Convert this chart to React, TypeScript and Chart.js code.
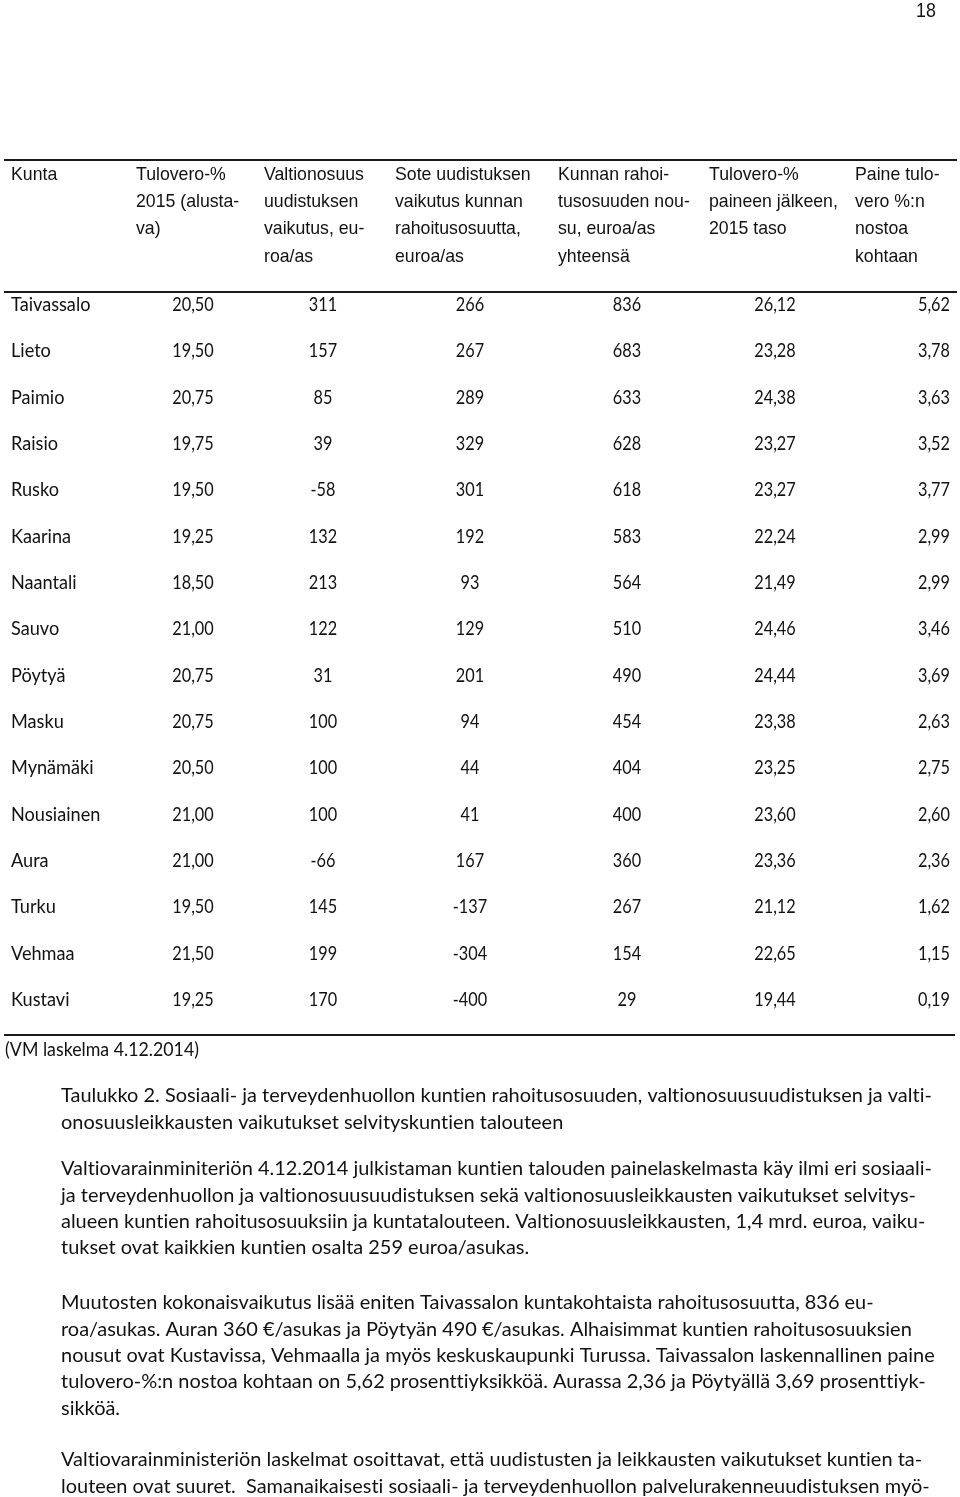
import React, { useEffect, useRef } from "react";
import { Chart, registerables } from "chart.js";

Chart.register(...registerables);

const kunnat = ["Taivassalo", "Lieto", "Paimio", "Raisio", "Rusko", "Kaarina", "Naantali", "Sauvo", "Pöytyä", "Masku", "Mynämäki", "Nousiainen", "Aura", "Turku", "Vehmaa", "Kustavi"];
const tulovero2015 = [20.5, 19.5, 20.75, 19.75, 19.5, 19.25, 18.5, 21.0, 20.75, 20.75, 20.5, 21.0, 21.0, 19.5, 21.5, 19.25];
const valtionosuus = [311, 157, 85, 39, -58, 132, 213, 122, 31, 100, 100, 100, -66, 145, 199, 170];
const sote = [266, 267, 289, 329, 301, 192, 93, 129, 201, 94, 44, 41, 167, -137, -304, -400];
const rahoitusNousu = [836, 683, 633, 628, 618, 583, 564, 510, 490, 454, 404, 400, 360, 267, 154, 29];
const tuloveroJalkeen = [26.12, 23.28, 24.38, 23.27, 23.27, 22.24, 21.49, 24.46, 24.44, 23.38, 23.25, 23.6, 23.36, 21.12, 22.65, 19.44];
const paine = [5.62, 3.78, 3.63, 3.52, 3.77, 2.99, 2.99, 3.46, 3.69, 2.63, 2.75, 2.6, 2.36, 1.62, 1.15, 0.19];

const headers = [
  ["Kunta"],
  ["Tulovero-%", "2015 (alusta-", "va)"],
  ["Valtionosuus", "uudistuksen", "vaikutus, eu-", "roa/as"],
  ["Sote uudistuksen", "vaikutus kunnan", "rahoitusosuutta,", "euroa/as"],
  ["Kunnan rahoi-", "tusosuuden nou-", "su, euroa/as", "yhteensä"],
  ["Tulovero-%", "paineen jälkeen,", "2015 taso"],
  ["Paine tulo-", "vero %:n", "nostoa", "kohtaan"],
];

const footnote = "(VM laskelma 4.12.2014)";
const paragraphs = [
  [
    "Taulukko 2. Sosiaali- ja terveydenhuollon kuntien rahoitusosuuden, valtionosuusuudistuksen ja valti-",
    "onosuusleikkausten vaikutukset selvityskuntien talouteen",
  ],
  [
    "Valtiovarainminiteriön 4.12.2014 julkistaman kuntien talouden painelaskelmasta käy ilmi eri sosiaali-",
    "ja terveydenhuollon ja valtionosuusuudistuksen sekä valtionosuusleikkausten vaikutukset selvitys-",
    "alueen kuntien rahoitusosuuksiin ja kuntatalouteen. Valtionosuusleikkausten, 1,4 mrd. euroa, vaiku-",
    "tukset ovat kaikkien kuntien osalta 259 euroa/asukas.",
  ],
  [
    "Muutosten kokonaisvaikutus lisää eniten Taivassalon kuntakohtaista rahoitusosuutta, 836 eu-",
    "roa/asukas. Auran 360 €/asukas ja Pöytyän 490 €/asukas. Alhaisimmat kuntien rahoitusosuuksien",
    "nousut ovat Kustavissa, Vehmaalla ja myös keskuskaupunki Turussa. Taivassalon laskennallinen paine",
    "tulovero-%:n nostoa kohtaan on 5,62 prosenttiyksikköä. Aurassa 2,36 ja Pöytyällä 3,69 prosenttiyk-",
    "sikköä.",
  ],
  [
    "Valtiovarainministeriön laskelmat osoittavat, että uudistusten ja leikkausten vaikutukset kuntien ta-",
    "louteen ovat suuret.  Samanaikaisesti sosiaali- ja terveydenhuollon palvelurakenneuudistuksen myö-",
  ],
];

// layout (styles only)
const W = 960;
const H = 1497;
const colAnchor = [11, 193, 323, 470, 627, 775, 950];
const colAlign: CanvasTextAlign[] = ["left", "center", "center", "center", "center", "center", "right"];
const headerX = [11, 136, 264, 395, 558, 709, 855];
const cellFont = "18.5px Lato";
const nameSx = 0.98;
const numSx = 0.88;
const paraFont = "19px Lato";
const paraSx = 1.05;
const headFont = "17.7px 'Liberation Sans'";
const ink = "#111";

const fmt2 = (v: number) => v.toFixed(2).replace(".", ",");
const fmt0 = (v: number) => String(v);
// break Lato's ti / tt / ft / fi ligatures
const noLig = (s: string) => s.replace(/([ft])(?=[a-zåäöt])/g, "$1\u200C");

function drawText(ctx: CanvasRenderingContext2D, text: string, x: number, y: number, font: string, align: CanvasTextAlign = "left", sx = 1) {
  ctx.save();
  ctx.font = font;
  ctx.fillStyle = ink;
  ctx.textBaseline = "middle";
  ctx.textAlign = align;
  ctx.translate(x, y);
  ctx.scale(sx, 1);
  ctx.fillText(noLig(text), 0, 0);
  ctx.restore();
}

function rule(ctx: CanvasRenderingContext2D, x1: number, x2: number, y: number) {
  ctx.save();
  ctx.strokeStyle = "#1a1a1a";
  ctx.lineWidth = 2;
  ctx.beginPath();
  ctx.moveTo(x1, y);
  ctx.lineTo(x2, y);
  ctx.stroke();
  ctx.restore();
}

export default function App() {
  const ref = useRef<HTMLCanvasElement>(null);
  useEffect(() => {
    if (!ref.current) return;
    const columns = [
      { values: kunnat as (string | number)[], f: (v: any) => String(v), sx: nameSx },
      { values: tulovero2015, f: fmt2, sx: numSx },
      { values: valtionosuus, f: fmt0, sx: numSx },
      { values: sote, f: fmt0, sx: numSx },
      { values: rahoitusNousu, f: fmt0, sx: numSx },
      { values: tuloveroJalkeen, f: fmt2, sx: numSx },
      { values: paine, f: fmt2, sx: numSx },
    ];
    const tablePlugin = {
      id: "tablePlugin",
      afterDraw(chart: any) {
        const ctx: CanvasRenderingContext2D = chart.ctx;
        // page number
        drawText(ctx, "18", 926, 11, "21px 'Liberation Sans Narrow', 'Liberation Sans'", "center", 0.85);
        // rules
        rule(ctx, 4, 957, 160);
        rule(ctx, 4, 957, 292);
        rule(ctx, 4, 955, 1035);
        // headers
        headers.forEach((lines, c) => {
          lines.forEach((t, li) => drawText(ctx, t, headerX[c], 175 + li * 27.3, headFont, "left"));
        });
        // cells
        chart.data.datasets.forEach((ds: any, di: number) => {
          const meta = chart.getDatasetMeta(di);
          const col = columns[di];
          meta.data.forEach((pt: any, i: number) => {
            drawText(ctx, col.f(col.values[i]), pt.x, pt.y, cellFont, colAlign[di], col.sx);
          });
        });
        // footnote
        drawText(ctx, footnote, 5, 1050, cellFont, "left", 0.96);
        // paragraphs
        const starts = [1096, 1169, 1303, 1460];
        paragraphs.forEach((p, pi) => {
          p.forEach((t, li) => drawText(ctx, t, 61, starts[pi] + li * 26.4, paraFont, "left", paraSx));
        });
      },
    };
    const chart = new Chart(ref.current, {
      type: "scatter",
      data: {
        datasets: columns.map((col, c) => ({
          label: headers[c].join(" "),
          data: kunnat.map((k) => ({ x: colAnchor[c], y: k })),
          pointRadius: 0,
          showLine: false,
        })),
      },
      options: {
        responsive: false,
        animation: false,
        devicePixelRatio: 1,
        layout: { padding: { top: 281.8, bottom: 473.8, left: 0, right: 0 } },
        plugins: { legend: { display: false }, tooltip: { enabled: false } },
        scales: {
          x: { type: "linear", min: 0, max: W, display: false },
          y: { type: "category", labels: kunnat, offset: true, display: false },
        },
      },
      plugins: [tablePlugin],
    } as any);
    return () => chart.destroy();
  }, []);
  return (
    <div style={{ position: "absolute", left: 0, top: 0, width: W, height: H, background: "#fff" }}>
      <canvas ref={ref} width={W} height={H} style={{ width: W, height: H, display: "block" }} />
    </div>
  );
}
